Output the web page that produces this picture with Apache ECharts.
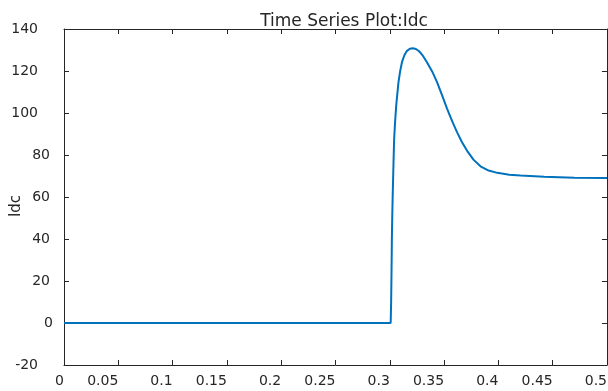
<!DOCTYPE html>
<html>
<head>
<meta charset="utf-8">
<script src="https://cdn.jsdelivr.net/npm/echarts@6/dist/echarts.min.js"></script>
<style>html,body{margin:0;padding:0;background:#fff}#c{width:608px;height:391px}</style>
</head>
<body>
<div id="c"></div>
<script>
var titleText = "Time Series Plot:Idc";
var yName = "Idc";
var times  = [0, 0.3008, 0.3012, 0.3016, 0.3019, 0.3023, 0.3028, 0.3034, 0.3040, 0.3049, 0.3059, 0.3070, 0.3080, 0.3095, 0.3112, 0.3134, 0.3158, 0.3185, 0.3213, 0.3240, 0.3270, 0.3300, 0.3342, 0.3390, 0.3435, 0.3480, 0.3528, 0.3575, 0.3620, 0.3665, 0.3712, 0.3770, 0.3835, 0.3910, 0.3990, 0.4100, 0.4205, 0.4421, 0.4700, 0.5];
var values = [0, 0,      9,      25,     39.7,   52,     63.6,   76,     87.6,   96,     103.5,  109.5,  114.7,  119.8,  124.2,  127.5,  129.6,  130.6,  130.8,  130.5,  129.4,  127.6,  124.2,  119.8,  114.7,  108.6,  102.0,  96.0,   90.8,   86.1,   82.0,   77.8,   74.6,   72.6,   71.5,   70.6,   70.2,   69.6,   69.2,   69.0];
var xMin = 0, xMax = 0.5, xStep = 0.05;
var yMin = -20, yMax = 140, yStep = 20;

var pts = times.map(function(t, i){ return [t, values[i]]; });
var axisCol = '#262626';
var font = '"DejaVu Sans", sans-serif';
function ax(base){ return Object.assign({
  type:'value', splitLine:{show:false},
  axisLine:{show:true, onZero:false, lineStyle:{color:axisCol, width:1}},
  axisTick:{show:true, inside:true, length:5, lineStyle:{color:axisCol}},
  axisLabel:{show:false}
}, base); }

var chart = echarts.init(document.getElementById('c'), null, {renderer:'canvas'});
chart.setOption({
  animation:false,
  backgroundColor:'#fff',
  title:{text:titleText, left:339, top:8, textAlign:'center',
    textStyle:{fontSize:17, fontWeight:'normal', color:axisCol, fontFamily:font}},
  graphic:[{type:'text', x:16, y:206, rotation:Math.PI/2,
    style:{text:yName, font:'15px "DejaVu Sans", sans-serif', fill:axisCol, align:'center', verticalAlign:'middle'}}],
  grid:{left:64, right:1, top:29, bottom:26, containLabel:false, outerBoundsMode:'none'},
  xAxis:[
    ax({min:xMin, max:xMax, interval:xStep, position:'bottom',
      axisLabel:{show:true, color:axisCol, fontSize:14, fontFamily:font, margin:9, align:'right', showMinLabel:true, showMaxLabel:true}}),
    ax({min:xMin, max:xMax, interval:xStep, position:'top'})
  ],
  yAxis:[
    ax({min:yMin, max:yMax, interval:yStep, position:'left',
      axisLabel:{show:true, color:axisCol, fontSize:14, fontFamily:font, margin:11,
        formatter:function(v){ var s=String(v); return s.length>=3 ? '{w3|'+s+'}' : (s.length===2 ? '{w2|'+s+'}' : '{w1|'+s+'}'); },
        rich:{
          w3:{color:axisCol, fontSize:14, fontFamily:font, padding:[0,15,0,0]},
          w2:{color:axisCol, fontSize:14, fontFamily:font, padding:[0,3,0,0]},
          w1:{color:axisCol, fontSize:14, fontFamily:font, padding:[0,0,0,0]}
        }}}),
    ax({min:yMin, max:yMax, interval:yStep, position:'right'})
  ],
  series:[{
    type:'line', data:pts, showSymbol:false, smooth:false,
    lineStyle:{color:'#0072BD', width:2}, clip:true
  }]
});
</script>
</body>
</html>
